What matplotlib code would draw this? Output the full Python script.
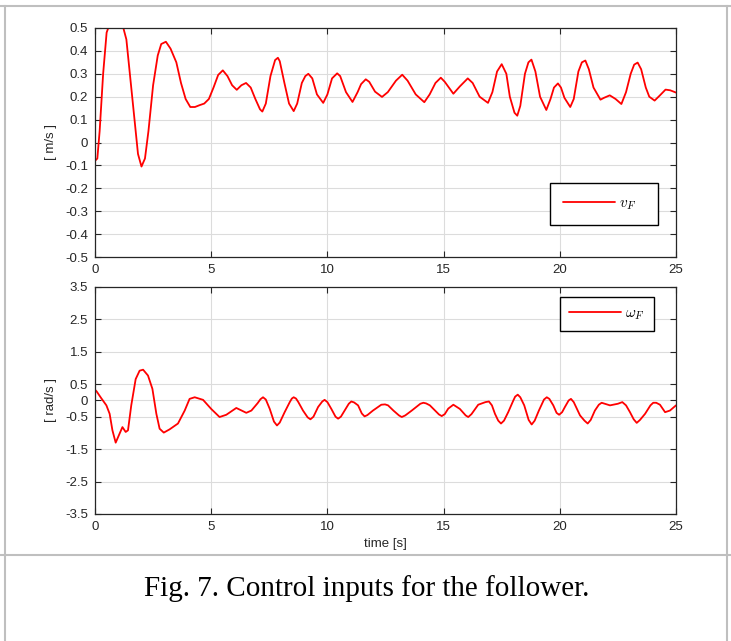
import matplotlib
matplotlib.use('Agg')
import matplotlib.pyplot as plt
from matplotlib.lines import Line2D

# v_F [m/s]
t_v = [0.0, 0.1, 0.2, 0.35, 0.5, 0.57, 1.22, 1.35, 1.5, 1.7, 1.85, 2.0, 2.15, 2.3, 2.5,
       2.7, 2.85, 3.05, 3.25, 3.5, 3.7, 3.9, 4.1, 4.3, 4.5, 4.7, 4.9, 5.1, 5.3, 5.5,
       5.7, 5.9, 6.1, 6.3, 6.5, 6.7, 6.9, 7.1, 7.2, 7.35, 7.55, 7.75, 7.87, 7.95, 8.15,
       8.35, 8.55, 8.7, 8.9, 9.05, 9.18, 9.35, 9.55, 9.82, 10.0, 10.2, 10.42, 10.55, 10.8,
       11.08, 11.3, 11.45, 11.65, 11.8, 12.05, 12.35, 12.6, 12.95, 13.22, 13.45, 13.8, 14.17,
       14.4, 14.65, 14.88, 15.05, 15.42, 15.7, 16.04, 16.25, 16.55, 16.91, 17.1, 17.3, 17.5,
       17.7, 17.85, 18.05, 18.17, 18.3, 18.5, 18.65, 18.78, 18.95, 19.15, 19.42, 19.6, 19.75,
       19.92, 20.05, 20.2, 20.45, 20.6, 20.8, 20.95, 21.1, 21.25, 21.45, 21.75, 21.9, 22.15,
       22.4, 22.65, 22.85, 23.05, 23.2, 23.35, 23.5, 23.7, 23.85, 24.08, 24.3, 24.55, 24.75,
       25.0]
v_F = [-0.08, -0.07, 0.05, 0.3, 0.48, 0.5, 0.5, 0.45, 0.3, 0.1, -0.05, -0.105, -0.07, 0.05, 0.25,
       0.38, 0.43, 0.44, 0.41, 0.35, 0.26, 0.19, 0.155, 0.155, 0.163, 0.17, 0.19, 0.24, 0.295, 0.315,
       0.29, 0.25, 0.23, 0.25, 0.26, 0.24, 0.19, 0.145, 0.135, 0.17, 0.29, 0.36, 0.37, 0.355, 0.26,
       0.17, 0.137, 0.17, 0.26, 0.29, 0.3, 0.28, 0.21, 0.173, 0.21, 0.28, 0.302, 0.29, 0.22,
       0.177, 0.22, 0.255, 0.276, 0.265, 0.222, 0.199, 0.22, 0.27, 0.296, 0.27, 0.21, 0.176,
       0.21, 0.26, 0.283, 0.265, 0.213, 0.245, 0.28, 0.26, 0.2, 0.173, 0.22, 0.31, 0.342,
       0.3, 0.2, 0.13, 0.117, 0.16, 0.3, 0.35, 0.362, 0.31, 0.2, 0.142, 0.19, 0.24,
       0.258, 0.24, 0.195, 0.155, 0.19, 0.31, 0.35, 0.358, 0.32, 0.24, 0.187, 0.195, 0.206,
       0.19, 0.168, 0.22, 0.3, 0.34, 0.349, 0.32, 0.24, 0.2, 0.183, 0.205, 0.231, 0.228,
       0.218]

# omega_F [rad/s]
t_w = [0.0, 0.07, 0.27, 0.49, 0.63, 0.75, 0.89, 1.03, 1.18, 1.32, 1.42, 1.56, 1.75, 1.92,
       2.07, 2.28, 2.47, 2.64, 2.78, 2.96, 3.21, 3.57, 3.86, 4.07, 4.29, 4.65, 5.0, 5.36,
       5.65, 6.08, 6.51, 6.73, 7.0, 7.12, 7.23, 7.35, 7.52, 7.7, 7.83, 7.95, 8.16, 8.38,
       8.47, 8.55, 8.65, 8.75, 8.95, 9.15, 9.27, 9.4, 9.6, 9.78, 9.88, 10.0, 10.17, 10.35,
       10.46, 10.58, 10.74, 10.92, 11.03, 11.15, 11.32, 11.48, 11.6, 11.72, 11.96, 12.32,
       12.48, 12.61, 12.84, 13.08, 13.2, 13.35, 13.63, 14.0, 14.13, 14.25, 14.41, 14.8,
       14.92, 15.05, 15.2, 15.42, 15.7, 15.95, 16.06, 16.2, 16.49, 16.8, 16.95, 17.08,
       17.21, 17.35, 17.47, 17.6, 17.78, 18.0, 18.08, 18.19, 18.3, 18.47, 18.66, 18.79,
       18.92, 19.1, 19.32, 19.44, 19.55, 19.72, 19.86, 19.97, 20.1, 20.22, 20.38, 20.48,
       20.6, 20.87, 21.06, 21.2, 21.33, 21.51, 21.68, 21.8, 22.16, 22.5, 22.69, 22.85,
       23.02, 23.18, 23.31, 23.45, 23.67, 23.9, 24.02, 24.15, 24.31, 24.53, 24.74, 25.0]
w_F = [0.33, 0.28, 0.07, -0.15, -0.41, -0.92, -1.3, -1.07, -0.82, -0.97, -0.92, -0.15, 0.66, 0.92,
       0.95, 0.77, 0.36, -0.41, -0.87, -0.99, -0.89, -0.71, -0.31, 0.05, 0.1, 0.02, -0.26, -0.51,
       -0.44, -0.23, -0.38, -0.31, -0.08, 0.04, 0.1, 0.03, -0.26, -0.65, -0.77, -0.68, -0.36, -0.05,
       0.06, 0.1, 0.06, -0.05, -0.31, -0.52, -0.58, -0.5, -0.2, -0.03, 0.02, -0.05, -0.26, -0.5,
       -0.56, -0.5, -0.31, -0.1, -0.03, -0.06, -0.15, -0.4, -0.49, -0.45, -0.31, -0.13,
       -0.12, -0.15, -0.31, -0.46, -0.51, -0.46, -0.31, -0.1, -0.07, -0.09, -0.15, -0.43,
       -0.48, -0.42, -0.25, -0.13, -0.26, -0.46, -0.51, -0.42, -0.13, -0.05, -0.03, -0.15,
       -0.41, -0.62, -0.71, -0.62, -0.36, 0.0, 0.12, 0.18, 0.1, -0.15, -0.6, -0.74,
       -0.62, -0.31, 0.03, 0.1, 0.05, -0.15, -0.38, -0.44, -0.36, -0.2, 0.0, 0.05,
       -0.05, -0.46, -0.62, -0.71, -0.6, -0.31, -0.13, -0.07, -0.15, -0.1, -0.05, -0.15,
       -0.36, -0.58, -0.69, -0.6, -0.41, -0.15, -0.07, -0.07, -0.13, -0.36, -0.31, -0.15]

v_ticks = [0.5, 0.4, 0.3, 0.2, 0.1, 0, -0.1, -0.2, -0.3, -0.4, -0.5]
w_ticks = [3.5, 2.5, 1.5, 0.5, 0, -0.5, -1.5, -2.5, -3.5]
x_ticks = [0, 5, 10, 15, 20, 25]

plt.rcParams['font.family'] = ['Liberation Sans', 'DejaVu Sans']
plt.rcParams['mathtext.fontset'] = 'cm'

W, H = 731, 641
fig = plt.figure(figsize=(W / 100, H / 100), dpi=100)

def px_axes(l, t, r, b):
    return fig.add_axes([l / W, 1 - b / H, (r - l) / W, (b - t) / H])

ax1 = px_axes(95, 28, 676, 257)
ax2 = px_axes(95, 287, 676, 514)

dark = '#262626'
for ax in (ax1, ax2):
    ax.set_xlim(0, 25)
    ax.set_xticks(x_ticks)
    ax.set_xticklabels([str(x) for x in x_ticks])
    ax.grid(True, color='#dcdcdc', linewidth=0.8)
    ax.set_axisbelow(True)
    ax.tick_params(direction='in', top=True, right=True, length=4, width=0.8,
                   colors=dark, labelsize=9.5, pad=5)
    for s in ax.spines.values():
        s.set_color(dark)
        s.set_linewidth(0.9)

line_kw = dict(color='#ff0000', lw=1.3, solid_joinstyle='round', solid_capstyle='round')

ax1.plot(t_v, v_F, label=r'$v_F$' + '   ', **line_kw)
ax1.set_ylim(-0.5, 0.5)
ax1.set_yticks(v_ticks)
ax1.set_yticklabels([f'{y:g}' for y in v_ticks])
ax1.set_ylabel('[ m/s ]', fontsize=9.5, color=dark, labelpad=6)
ax1.legend(loc='lower right', bbox_to_anchor=(0.969, 0.14), fancybox=False,
           edgecolor='black', framealpha=1, fontsize=11, handlelength=3.4,
           borderpad=0.85, handletextpad=0.3, borderaxespad=0)

ax2.plot(t_w, w_F, label=r'$\omega_F$', **line_kw)
ax2.set_ylim(-3.5, 3.5)
ax2.set_yticks(w_ticks)
ax2.set_yticklabels([f'{y:g}' for y in w_ticks])
ax2.set_ylabel('[ rad/s ]', fontsize=9.5, color=dark, labelpad=6)
ax2.set_xlabel('time [s]', fontsize=9.5, color=dark, labelpad=4)
ax2.legend(loc='upper right', bbox_to_anchor=(0.962, 0.956), fancybox=False,
           edgecolor='black', framealpha=1, fontsize=11, handlelength=3.4,
           borderpad=0.6, handletextpad=0.3, borderaxespad=0)

# ramka tabeli
gray = '#bfbfbf'
fig.add_artist(Line2D([0, 1], [1 - 6 / H, 1 - 6 / H], color=gray, lw=1.5))
fig.add_artist(Line2D([0, 1], [1 - 555 / H, 1 - 555 / H], color=gray, lw=1.5))
fig.add_artist(Line2D([5 / W, 5 / W], [0, 1 - 6 / H], color=gray, lw=1.5))
fig.add_artist(Line2D([727 / W, 727 / W], [0, 1 - 6 / H], color=gray, lw=1.5))

fig.text(367 / W, 1 - 589 / H, 'Fig. 7. Control inputs for the follower.',
         family='Liberation Serif', fontsize=21, ha='center', va='center', color='black')

fig.savefig('out.png', dpi=100)
